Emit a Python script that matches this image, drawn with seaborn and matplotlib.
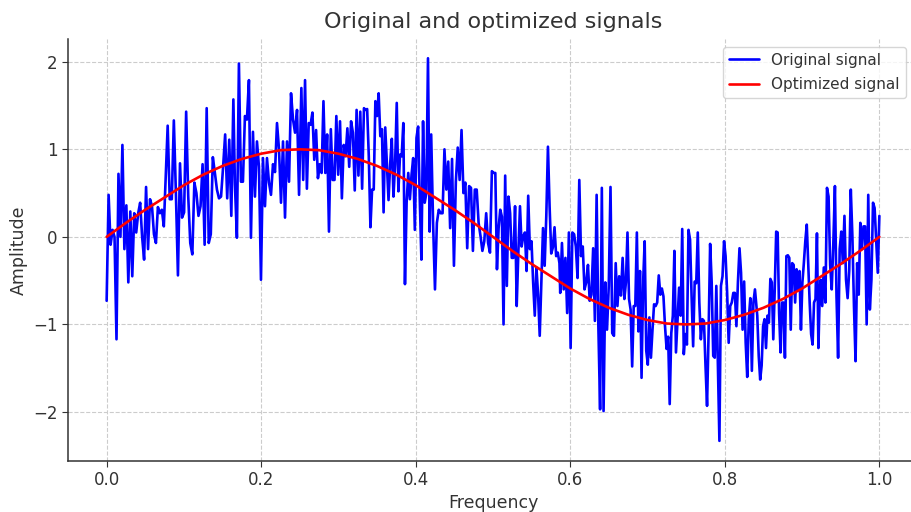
import numpy as np
import pandas as pd
import matplotlib
matplotlib.use("Agg")
import matplotlib.pyplot as plt
import seaborn as sns

# ---- data ----
seg1 = [-0.73, 0.48, -0.09, 0.08, 0.0, -1.17, 0.72, 0.0, 1.05, -0.14, 0.36, -0.52, 0.29, -0.45, 0.27, 0.05,
        0.27, 0.39, 0.0, -0.26, 0.57, -0.14, 0.43, 0.35, 0.03, -0.07, 0.34, 0.27, 0.31, 0.12]
seg2 = [1.27, 0.43, 0.43, 1.33, 0.5, -0.44, 0.84, 0.22, 0.28, 1.43, 0.47, -0.07, -0.2, 0.62, 0.5, 0.24, 0.35,
        0.83, -0.09, 1.47, -0.07, 0.03, 0.91, 0.73, 0.54, 0.44, 0.46, 0.8, 1.17, 0.44, 1.11, 0.24, 1.57]
seg3 = [0.6, -0.01, 1.98, 0.63, 0.63, 1.38, 1.34, 1.79, -0.01, 1.2, 0.46, 1.09, 0.8, -0.49, 0.9, 0.35, 0.9,
        0.62, 0.48, 0.83, 0.74, 1.3, 1.0, 0.39, 1.09, 0.22, 1.09, 0.63, 1.64, 1.34, 1.19, 1.45, 0.48]
seg4 = [1.7, 0.65, 1.79, 0.55, 1.3, 1.28, 1.42, 0.88, 1.22, 0.67, 0.83, 0.73, 1.55, 0.73, 1.17, 0.06, 1.23,
        0.65, 0.65, 1.38, 0.71, 1.32, 0.44, 1.05, 0.92, 1.24, 0.8, 1.32, 1.19, 0.53, 1.45, 0.7, 1.43, 0.55, 1.47]
seg5 = [1.45, 1.46, 0.92, 0.11, 0.54, 0.54, 1.55, 1.38, 1.64, 1.15, 1.23, 0.28, 1.25, 0.84, 0.42, 0.83, 1.12,
        0.46, 0.83, 1.53, 0.52, 0.94, 0.92, 1.3, -0.54, 0.39, 0.73, 0.43, 0.71, 0.9, 0.08, 1.13, 1.26, 0.43,
        -0.26, 1.32, 0.39, 0.5, 2.04, 0.06]
seg6 = [1.17, 0.16, -0.6, 0.16, 0.31, 0.27, 0.27, 1.0, 0.54, 0.86, 0.1, 0.89, -0.33, 0.63, 1.02, 0.65, 1.22,
        0.5, 0.62, -0.13, 0.58, 0.56, -0.16, 0.54, 0.54, 0.16, 0.01, -0.16, -0.05, 0.27, -0.07, -0.18, 0.75, 0.73]
seg7 = [0.73, -0.37, 0.1, 0.31, 0.23, -1.0, 0.7, -0.56, 0.46, 0.27, -0.24, -0.24, 0.35, -0.79, -0.18, 0.35,
        -0.11, 0.01, 0.05, -0.39, 0.47, -0.14, -0.05, -0.52, -0.9, -0.35, -0.66, -1.13, -0.52, 0.1, -0.33, 0.24,
        1.03, 0.35, -0.19, -0.12, 0.11, -0.22, -0.18, -0.3]
seg8 = [-0.64, -0.07, -0.6, -0.24, -0.87, 0.05, -1.27, 0.05, 0.03, -0.11, -0.47, 0.65, -0.22, -0.11, -0.6,
        -0.52, -0.32, -0.73, -0.66, -0.13, -0.96, 0.48, -1.02, -1.97, 0.56, -1.99, -0.52, -1.06, -0.56, 0.57,
        -1.1, -1.13, -0.3, -0.79, -0.45, -0.67, -0.24, -0.71]
seg9 = [-0.52, 0.05, -0.71, -0.83, -1.48, -0.79, -0.79, 0.05, -1.08, -0.39, -1.61, -0.52, -0.05, -1.3, -1.46,
        -0.92, -1.38, -1.06, -0.77, -0.79, -0.75, -0.44, -0.66, -0.59, -0.68, -1.02, -1.28, -1.14, -1.91, -1.1,
        -0.9, -0.16, -1.32, -0.94, -0.58, -0.9, 0.09, -1.34, -1.11, -1.23, 0.08, -0.03]
seg10 = [-0.68, -1.25, -0.51, -0.53, 0.05, -0.75, -1.17, -0.94, -0.96, -1.47, -1.93, -1.1, -0.08, -0.52,
         -1.36, -1.38, -0.56, -1.47, -2.33, -0.56, -0.45, -0.05, -0.22, -0.64, -1.21, -0.79, -0.75, -0.64,
         -0.64, -1.02, -0.51, -0.13, -0.41, -1.06, -0.51, -1.21, -1.6, -0.94, -0.7, -1.53, -0.75, -0.6]
seg11 = [-0.9, -1.36, -1.63, -1.47, -1.02, -0.94, -1.27, -0.9, -0.98, -0.48, -0.52, -1.17, -0.6, 0.06, 0.05,
         -0.87, -1.32, -0.75, -0.75, -1.38, -0.22, -0.21, -0.24, -1.06, -0.3, -0.32, -0.75, -0.37, -0.6, -0.39,
         -1.06, -0.52, -0.3, -0.05, 0.14, -0.3, -0.75, -1.11, -1.23, -0.75, -0.71, 0.04, -1.27, -0.6]
seg12 = [-0.49, -0.79, -0.35, -0.75, 0.56, 0.46, -0.32, -0.6, -0.07, 0.58, -0.68, -1.38, -0.14, 0.06, -0.3,
         0.24, -0.49, -0.7, -0.39, 0.54, 0.01, -0.79, -1.42, -0.3, -0.66, 0.16, -0.14, 0.12, 0.12, -1.0, 0.48,
         -0.83, -0.49, 0.39, 0.33, -0.03, -0.41, 0.24]

# frequency span covered by each segment
seg_start = [0.0, 0.079, 0.166, 0.252, 0.335, 0.420, 0.503, 0.587, 0.672, 0.757, 0.842, 0.924]
seg_end = [0.074, 0.164, 0.249, 0.333, 0.418, 0.501, 0.586, 0.670, 0.755, 0.839, 0.923, 1.0]

fit_freq = [i / 40 for i in range(41)]
fit_amp = [0.0, 0.16, 0.31, 0.45, 0.59, 0.71, 0.81, 0.89, 0.95, 0.99, 1.0, 0.99, 0.95, 0.89, 0.81, 0.71,
           0.59, 0.45, 0.31, 0.16, 0.0, -0.16, -0.31, -0.45, -0.59, -0.71, -0.81, -0.89, -0.95, -0.99, -1.0,
           -0.99, -0.95, -0.89, -0.81, -0.71, -0.59, -0.45, -0.31, -0.16, 0.0]

x_ticks = [0.0, 0.2, 0.4, 0.6, 0.8, 1.0]
y_ticks = [-2, -1, 0, 1, 2]

# ---- build tables ----
segs = [seg1, seg2, seg3, seg4, seg5, seg6, seg7, seg8, seg9, seg10, seg11, seg12]
freq, amp = [], []
for s, a, b in zip(segs, seg_start, seg_end):
    freq.extend(np.linspace(a, b, len(s)))
    amp.extend(s)
orig = pd.DataFrame({"Frequency": freq, "Amplitude": amp})
fit = pd.DataFrame({"Frequency": fit_freq, "Amplitude": fit_amp})

sns.set_style("ticks")
plt.rcParams["font.family"] = ["DejaVu Sans"]

fig = plt.figure(figsize=(9.12, 5.12), dpi=100)
ax = fig.add_axes([68 / 912, 51 / 512, 850 / 912, 422 / 512])

sns.lineplot(data=orig, x="Frequency", y="Amplitude", ax=ax, color="blue", linewidth=1.9,
             label="Original signal", sort=False, estimator=None)
sns.lineplot(data=fit, x="Frequency", y="Amplitude", ax=ax, color="red", linewidth=1.9,
             label="Optimized signal", sort=False, estimator=None)

ax.set_xlim(-0.05, 1.05)
ax.set_ylim(-2.56, 2.26)
ax.set_xticks(x_ticks)
ax.set_yticks(y_ticks)
ax.set_xticklabels([f"{t:.1f}" for t in x_ticks])
ax.set_yticklabels(["\u22122", "\u22121", "0", "1", "2"])
ax.grid(True, linestyle="--", color="#cccccc", linewidth=0.8)
ax.set_axisbelow(True)
sns.despine(ax=ax)
for sp in ["left", "bottom"]:
    ax.spines[sp].set_color("#333333")
    ax.spines[sp].set_linewidth(1.1)
ax.tick_params(labelsize=12, colors="#333333", length=4)
ax.set_xlabel("Frequency", fontsize=12.5, color="#333333", labelpad=3)
ax.set_ylabel("Amplitude", fontsize=12.5, color="#333333")
ax.set_title("Original and optimized signals", fontsize=16, color="#333333", pad=8)

leg = ax.legend(loc="upper right", fontsize=11, frameon=True, bbox_to_anchor=(0.995, 1.0),
                labelspacing=0.6)
leg.get_frame().set_edgecolor("#cccccc")
for t in leg.get_texts():
    t.set_color("#333333")

fig.savefig("out.png", dpi=100)
